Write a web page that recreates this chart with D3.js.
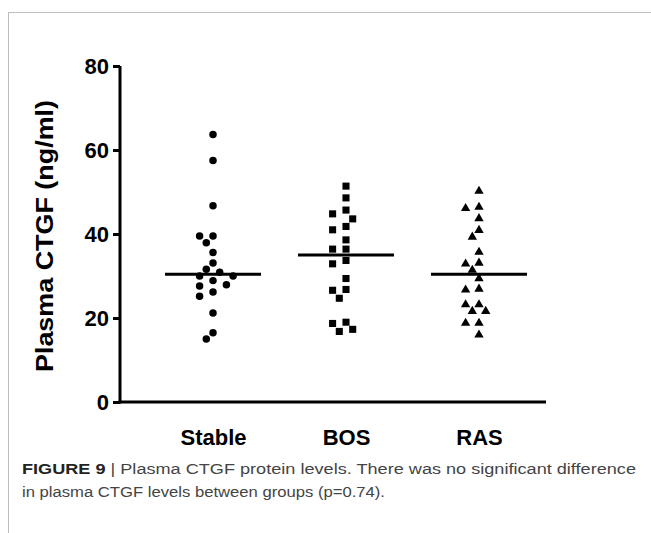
<!DOCTYPE html>
<html>
<head>
<meta charset="utf-8">
<script src="https://cdn.jsdelivr.net/npm/d3@7"></script>
<style>
  html, body { margin: 0; padding: 0; background: #fff; }
  svg { display: block; }
</style>
</head>
<body>
<svg id="chart" width="651" height="533"></svg>
<script>
// ---- data ----
const groups = ["Stable", "BOS", "RAS"];
const stableValues = [63.7, 57.5, 46.7, 39.5, 39.5, 37.9, 35.6, 33.1, 31.6, 30.9, 30.0, 30.0, 28.9, 27.9, 27.6, 26.2, 25.2, 21.2, 16.5, 15.0];
const bosValues = [51.4, 48.6, 45.7, 44.8, 43.6, 41.8, 41.0, 38.6, 36.4, 36.4, 33.7, 32.9, 29.4, 26.8, 26.6, 24.7, 19.0, 18.7, 17.3, 16.8];
const rasValues = [50.2, 46.4, 46.1, 43.7, 40.9, 39.3, 35.7, 33.1, 32.9, 31.4, 29.4, 26.9, 26.7, 23.2, 23.2, 21.6, 21.6, 18.8, 18.8, 16.0];
const medians = [30.4, 35.0, 30.4];
const yTicks = [0, 20, 40, 60, 80];
const yTitle = "Plasma CTGF (ng/ml)";
const captionBold = "FIGURE 9";
const captionRest1 = " | Plasma CTGF protein levels. There was no significant difference";
const captionLine2 = "in plasma CTGF levels between groups (p=0.74).";

const seriesValues = [stableValues, bosValues, rasValues];
const shapes = [d3.symbolCircle, d3.symbolSquare, d3.symbolTriangle];
const shapeSizes = [44, 50, 38];

// ---- layout ----
const svg = d3.select("#chart");
const W = 651, H = 533;
const axisX = 120, axisY0 = 402, axisYTop = 66, axisXEnd = 546;
const fontBold = "'Liberation Sans', Arial, Helvetica, sans-serif";

// frame
svg.append("line").attr("x1", 8).attr("x2", W).attr("y1", 12.5).attr("y2", 12.5)
  .attr("stroke", "#bdbdbd").attr("stroke-width", 1);
svg.append("line").attr("x1", 8.5).attr("x2", 8.5).attr("y1", 12).attr("y2", H)
  .attr("stroke", "#bdbdbd").attr("stroke-width", 1);

const y = d3.scaleLinear().domain([0, 80]).range([axisY0, axisYTop]);
const x = d3.scalePoint().domain(groups).range([213, 479]);

// y axis
const yAxis = d3.axisLeft(y).tickValues(yTicks).tickSize(7).tickPadding(4).tickSizeOuter(0);
const gy = svg.append("g").attr("transform", `translate(${axisX},0)`).call(yAxis);
gy.select(".domain").attr("stroke", "#000").attr("stroke-width", 3).attr("d", `M0,${axisYTop}V${axisY0 + 1.5}`);
gy.selectAll(".tick line").attr("stroke", "#000").attr("stroke-width", 3);
gy.selectAll(".tick text").attr("fill", "#000")
  .style("font-family", fontBold)
  .style("font-size", "22px").style("font-weight", "bold").attr("dy", "0.36em");

// x axis line
const xAxis = d3.axisBottom(x).tickSize(0).tickPadding(27);
const gx = svg.append("g").attr("transform", `translate(0,${axisY0})`).call(xAxis);
gx.select(".domain").attr("stroke", "#000").attr("stroke-width", 3).attr("d", `M${axisX - 1.5},0H${axisXEnd}`);
gx.selectAll(".tick text").attr("fill", "#000")
  .style("font-family", fontBold)
  .style("font-size", "22px").style("font-weight", "bold");

// y title
svg.append("text")
  .attr("transform", `translate(53,236) rotate(-90)`)
  .attr("text-anchor", "middle")
  .style("font-family", fontBold)
  .style("font-size", "24px").style("font-weight", "bold")
  .attr("fill", "#000")
  .attr("textLength", 272).attr("lengthAdjust", "spacingAndGlyphs")
  .text(yTitle);

// beeswarm placement
function swarm(values, u, d) {
  const placed = [];
  const sorted = values.slice().sort((a, b) => b - a);
  const lanes = [0, -1, 1, -2, 2, -3, 3, -4, 4, -5, 5];
  sorted.forEach(v => {
    const py = y(v);
    let px = 0;
    for (const k of lanes) {
      const cx = k * u;
      if (placed.every(p => Math.hypot(p.x - cx, p.y - py) >= d)) { px = cx; break; }
    }
    placed.push({ x: px, y: py, v });
  });
  return placed;
}

groups.forEach((g, i) => {
  const pts = swarm(seriesValues[i], 6.7, 9);
  const cx = x(g);
  const sym = d3.symbol().type(shapes[i]).size(shapeSizes[i]);
  svg.append("g").selectAll("path").data(pts).join("path")
    .attr("d", sym)
    .attr("transform", d => `translate(${cx + d.x},${d.y})`)
    .attr("fill", "#000");
  svg.append("line")
    .attr("x1", cx - 48).attr("x2", cx + 48)
    .attr("y1", y(medians[i])).attr("y2", y(medians[i]))
    .attr("stroke", "#000").attr("stroke-width", 3);
});

// caption
const capFont = "'Liberation Sans Narrow', 'Liberation Sans', Arial, sans-serif";
const cap1 = svg.append("text").attr("x", 22).attr("y", 474)
  .style("font-family", capFont)
  .style("font-size", "15.5px").attr("fill", "#444")
  .attr("textLength", 614).attr("lengthAdjust", "spacingAndGlyphs");
cap1.append("tspan").style("font-weight", "bold").attr("fill", "#222").text(captionBold);
cap1.append("tspan").text(captionRest1);
svg.append("text").attr("x", 22).attr("y", 497)
  .style("font-family", capFont)
  .style("font-size", "15.5px").attr("fill", "#444")
  .attr("textLength", 363).attr("lengthAdjust", "spacingAndGlyphs")
  .text(captionLine2);
</script>
</body>
</html>
